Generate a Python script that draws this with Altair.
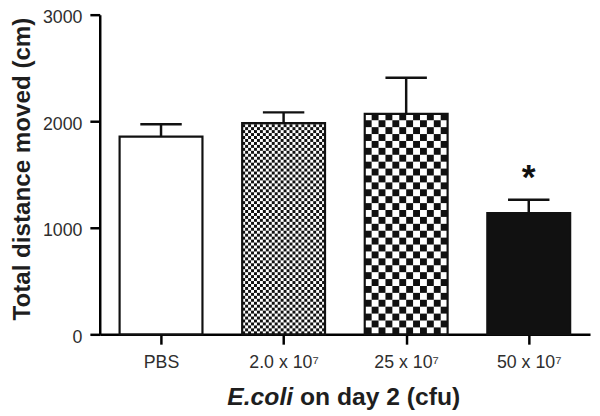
import json
import math

import altair as alt
import pandas as pd

# ---------------- data ----------------
CATEGORIES = ["PBS", "2.0 x 10⁷", "25 x 10⁷", "50 x 10⁷"]
MEANS = [1856, 1983, 2069, 1137]
SEMS = [115, 100, 339, 127]
PATTERNS = ["white", "fine", "coarse", "black"]
SIGNIF = ["", "", "", "*"]
Y_TICKS = [0, 1000, 2000, 3000]
Y_TITLE = "Total distance moved (cm)"
X_TITLE_PARTS = ["E.coli", "on day 2 (cfu)"]

# ---------------- layout / style ----------------
W, H = 497, 324
Y_MAX = 3000
X_MIN, X_MAX = -0.5, 3.5
BAR_PX = 84
CAP_PX = 42
FONT = "Liberation Sans"
LABEL_COLOR = "#2e2e2e"
TITLE_COLOR = "#1e1e1e"
CELL_COLS = {"fine": 28, "coarse": 12}
FILL_OF = {"white": "white", "fine": "white", "coarse": "white", "black": "#111111"}

px_x = W / (X_MAX - X_MIN)
px_y = H / Y_MAX
bar_half = BAR_PX / 2 / px_x
cap_half = CAP_PX / 2 / px_x

bars = pd.DataFrame({
    "cat": CATEGORIES,
    "mean": MEANS,
    "sem": SEMS,
    "pattern": PATTERNS,
    "sig": SIGNIF,
})
bars["idx"] = list(range(len(CATEGORIES)))
bars["x0"] = bars["idx"] - bar_half
bars["x1"] = bars["idx"] + bar_half
bars["upper"] = bars["mean"] + bars["sem"]
bars["c0"] = bars["idx"] - cap_half
bars["c1"] = bars["idx"] + cap_half
bars["fillc"] = [FILL_OF[p] for p in PATTERNS]
bars["zero"] = 0

# checkerboard texture cells (decoration inside patterned bars)
cells = []
for i, pat in enumerate(PATTERNS):
    if pat not in CELL_COLS:
        continue
    ncol = CELL_COLS[pat]
    cw = 2 * bar_half / ncol
    ch = (BAR_PX / ncol) / px_y
    nrow = math.ceil(MEANS[i] / ch)
    for r in range(nrow):
        for c in range(ncol):
            if (r + c) % 2 == 0:
                y0 = r * ch
                y1 = min((r + 1) * ch, MEANS[i])
                if y1 <= y0:
                    continue
                x0 = i - bar_half + c * cw
                cells.append({"x0": x0, "x1": x0 + cw, "y0": y0, "y1": y1})
cells = pd.DataFrame(cells)

xs = alt.Scale(domain=[X_MIN, X_MAX], nice=False, zero=False)
ys = alt.Scale(domain=[0, Y_MAX], nice=False)

label_expr = json.dumps(CATEGORIES, ensure_ascii=False) + "[datum.value]"

x_axis = alt.Axis(
    values=list(range(len(CATEGORIES))),
    labelExpr=label_expr,
    title=None,
    tickSize=10,
    tickWidth=2.5,
    domainWidth=2.5,
    domainColor="black",
    tickColor="black",
    labelPadding=10,
    labelFontSize=18,
    labelFont=FONT,
    labelColor=LABEL_COLOR,
    grid=False,
    labelFlush=False,
)
y_axis = alt.Axis(
    values=Y_TICKS,
    format="d",
    title=Y_TITLE,
    tickSize=10,
    tickWidth=2.5,
    domainWidth=2.5,
    domainColor="black",
    tickColor="black",
    labelPadding=8,
    labelOffset=3,
    labelFontSize=18,
    labelFont=FONT,
    labelColor=LABEL_COLOR,
    titleFont=FONT,
    titleFontSize=24.5,
    titleFontWeight="bold",
    titleColor=TITLE_COLOR,
    titlePadding=8,
    titleY=156,
    grid=False,
    labelFlush=False,
)


def X(field):
    return alt.X(field, type="quantitative", scale=xs, axis=x_axis)


def Y(field):
    return alt.Y(field, type="quantitative", scale=ys, axis=y_axis)


fill_layer = alt.Chart(bars).mark_rect().encode(
    x=X("x0"),
    x2="x1",
    y=Y("zero"),
    y2="mean",
    fill=alt.Fill("fillc:N", scale=None),
)

cell_layer = alt.Chart(cells).mark_rect(color="#111111").encode(
    x=X("x0"),
    x2="x1",
    y=Y("y0"),
    y2="y1",
)

outline_layer = alt.Chart(bars).mark_rect(
    fillOpacity=0, stroke="#111111", strokeWidth=2.2
).encode(
    x=X("x0"),
    x2="x1",
    y=Y("zero"),
    y2="mean",
)

err_layer = alt.Chart(bars).mark_rule(color="#111111", strokeWidth=2.5).encode(
    x=X("idx"),
    y=Y("mean"),
    y2="upper",
)

cap_layer = alt.Chart(bars).mark_rule(color="#111111", strokeWidth=2.5).encode(
    x=X("c0"),
    x2="c1",
    y=Y("upper"),
)

sig_layer = alt.Chart(bars).mark_text(
    font=FONT, fontSize=36, fontWeight="bold", color="#111111",
    baseline="alphabetic", dy=-11,
).encode(
    x=X("idx"),
    y=Y("upper"),
    text="sig:N",
)

title_df = pd.DataFrame({"a": [X_TITLE_PARTS[0]], "b": [X_TITLE_PARTS[1]]})
xt1 = alt.Chart(title_df).mark_text(
    font=FONT, fontSize=25, fontWeight="bold", fontStyle="italic",
    color=TITLE_COLOR, align="right", baseline="alphabetic",
).encode(x=alt.value(196), y=alt.value(396), text="a:N")
xt2 = alt.Chart(title_df).mark_text(
    font=FONT, fontSize=25, fontWeight="bold",
    color=TITLE_COLOR, align="left", baseline="alphabetic", dx=7,
).encode(x=alt.value(196), y=alt.value(396), text="b:N")

chart = alt.layer(
    fill_layer, cell_layer, outline_layer, err_layer, cap_layer, sig_layer, xt1, xt2
).properties(
    width=W,
    height=H,
    padding={"left": 93, "top": 4, "right": 2, "bottom": 78},
    autosize=alt.AutoSizeParams(type="none"),
    background="white",
).configure_view(strokeWidth=0)

chart.save("out.html", embed_options={"renderer": "svg", "actions": False})
